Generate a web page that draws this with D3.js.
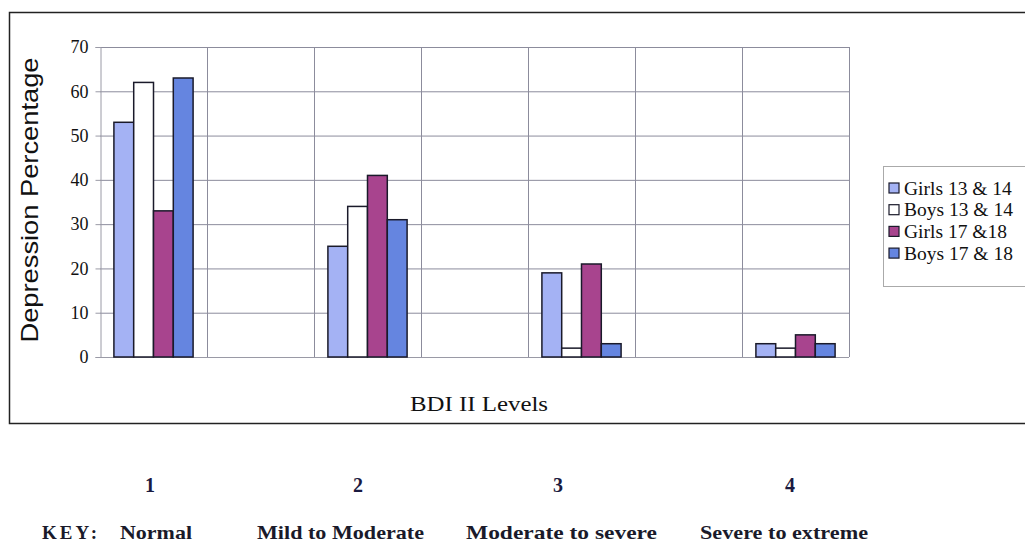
<!DOCTYPE html>
<html>
<head>
<meta charset="utf-8">
<script src="https://cdn.jsdelivr.net/npm/d3@7"></script>
<style>
  body { margin: 0; background: #fff; }
  svg { display: block; }
</style>
</head>
<body>
<div id="chart"></div>
<script>
// chart values
var levels = ["1", "2", "3", "4"];
var levelNames = ["Normal", "Mild to Moderate", "Moderate to severe", "Severe to extreme"];
var seriesNames = ["Girls 13 & 14", "Boys 13 & 14", "Girls 17 &18", "Boys 17 & 18"];
var girls1314 = [53, 25, 19, 3];
var boys1314 = [62, 34, 2, 2];
var girls1718 = [33, 41, 21, 5];
var boys1718 = [63, 31, 3, 3];
var yTicks = [0, 10, 20, 30, 40, 50, 60, 70];

var seriesColors = ["#a4b2f4", "#ffffff", "#a8448e", "#6585e0"];

var svg = d3.select("#chart").append("svg").attr("width", 1025).attr("height", 543);

// outer chart frame (right edge runs off the page)
svg.append("rect").attr("x", 9.5).attr("y", 12.5).attr("width", 1030).attr("height", 411)
  .attr("fill", "none").attr("stroke", "#222").attr("stroke-width", 1.5);

var plot = { left: 100, right: 849, top: 47, bottom: 357 };

// the original sheet leaves an empty category between each level
var slots = [];
levels.forEach(function(l, i) {
  slots.push(l);
  if (i < levels.length - 1) slots.push("gap" + i);
});

var x0 = d3.scaleBand().domain(slots).range([plot.left, plot.right]).padding(0);
var x1 = d3.scaleBand().domain(seriesNames)
  .range([x0.bandwidth() * 0.13, x0.bandwidth() * 0.87]).padding(0);
var y = d3.scaleLinear().domain([0, 70]).range([plot.bottom, plot.top]);

// grid
var grid = svg.append("g");
grid.selectAll("line.h").data(yTicks).enter().append("line")
  .attr("x1", plot.left).attr("x2", plot.right)
  .attr("y1", function(d) { return y(d) + 0.5; }).attr("y2", function(d) { return y(d) + 0.5; })
  .attr("stroke", "#8c8c9c").attr("stroke-width", 1);
grid.selectAll("line.v").data(slots).enter().append("line")
  .attr("x1", function(d) { return x0(d) + x0.bandwidth() + 0.5; })
  .attr("x2", function(d) { return x0(d) + x0.bandwidth() + 0.5; })
  .attr("y1", plot.top).attr("y2", plot.bottom)
  .attr("stroke", "#8c8c9c").attr("stroke-width", 1);

// y axis
var yAxis = d3.axisLeft(y).tickValues(yTicks).tickSize(5).tickPadding(7);
var yg = svg.append("g").attr("transform", "translate(" + (plot.left + 0.5) + ",0)").call(yAxis);
yg.select(".domain").attr("stroke", "#9a9aa6");
yg.selectAll(".tick line").attr("stroke", "#9a9aa6");
yg.selectAll(".tick text").attr("font-family", "Liberation Serif, Times New Roman, serif")
  .attr("font-size", 18).attr("fill", "#111");

// x axis line
svg.append("line").attr("x1", plot.left).attr("x2", plot.right)
  .attr("y1", plot.bottom + 0.5).attr("y2", plot.bottom + 0.5)
  .attr("stroke", "#9a9aa6");

// bars
var allSeries = [girls1314, boys1314, girls1718, boys1718];
var rows = levels.map(function(l, i) {
  return { level: l, values: seriesNames.map(function(s, j) { return { name: s, value: allSeries[j][i], color: seriesColors[j] }; }) };
});

var groups = svg.selectAll("g.level").data(rows).enter().append("g")
  .attr("transform", function(d) { return "translate(" + x0(d.level) + ",0)"; });
groups.selectAll("rect").data(function(d) { return d.values; }).enter().append("rect")
  .attr("x", function(d) { return x1(d.name); })
  .attr("y", function(d) { return y(d.value); })
  .attr("width", x1.bandwidth())
  .attr("height", function(d) { return y(0) - y(d.value); })
  .attr("fill", function(d) { return d.color; })
  .attr("stroke", "#1a1a2a").attr("stroke-width", 1.5);

// axis titles
svg.append("text").attr("transform", "translate(38,200) rotate(-90)")
  .attr("text-anchor", "middle").attr("font-family", "Liberation Sans, Arial, sans-serif")
  .attr("font-size", 24).attr("fill", "#111")
  .attr("textLength", 285).attr("lengthAdjust", "spacingAndGlyphs")
  .text("Depression Percentage");

svg.append("text").attr("x", 479).attr("y", 411).attr("text-anchor", "middle")
  .attr("font-family", "Liberation Serif, Times New Roman, serif").attr("font-size", 22)
  .attr("fill", "#111").attr("textLength", 138).attr("lengthAdjust", "spacingAndGlyphs")
  .text("BDI II Levels");

// legend
var legend = svg.append("g").attr("transform", "translate(883,166)");
legend.append("rect").attr("x", 0.5).attr("y", 0.5).attr("width", 160).attr("height", 120)
  .attr("fill", "#fff").attr("stroke", "#aaa");
var items = legend.selectAll("g.item").data(seriesNames).enter().append("g")
  .attr("transform", function(d, i) { return "translate(0," + (22 + i * 21.7) + ")"; });
items.append("rect").attr("x", 6).attr("y", -5).attr("width", 10).attr("height", 10)
  .attr("fill", function(d, i) { return seriesColors[i]; })
  .attr("stroke", "#1a1a2a").attr("stroke-width", 1.2);
items.append("text").attr("x", 21).attr("y", 6.5)
  .attr("font-family", "Liberation Serif, Times New Roman, serif").attr("font-size", 19.5)
  .attr("fill", "#111").text(function(d) { return d; });

// level numbers and key underneath
var numX = [150, 358, 558, 790];
var keyStart = [120, 257, 466, 700];
var keyWidth = [72, 167, 191, 168];
var serif = "Liberation Serif, Times New Roman, serif";
svg.selectAll("text.num").data(levels).enter().append("text")
  .attr("x", function(d, i) { return numX[i]; }).attr("y", 492)
  .attr("text-anchor", "middle").attr("font-family", serif).attr("font-weight", "bold")
  .attr("font-size", 20).attr("fill", "#1a1a40").text(function(d) { return d; });

svg.append("text").attr("x", 42).attr("y", 539).attr("font-family", serif)
  .attr("font-weight", "bold").attr("font-size", 19).attr("fill", "#1a1a2a")
  .attr("textLength", 55).attr("lengthAdjust", "spacing").text("KEY:");
svg.selectAll("text.key").data(levelNames).enter().append("text")
  .attr("x", function(d, i) { return keyStart[i]; }).attr("y", 539)
  .attr("font-family", serif).attr("font-weight", "bold").attr("font-size", 19)
  .attr("fill", "#1a1a2a")
  .attr("textLength", function(d, i) { return keyWidth[i]; }).attr("lengthAdjust", "spacingAndGlyphs")
  .text(function(d) { return d; });
</script>
</body>
</html>
